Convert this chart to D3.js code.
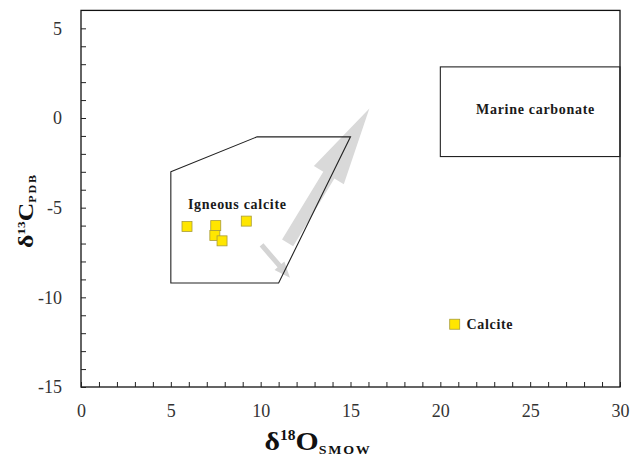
<!DOCTYPE html>
<html>
<head>
<meta charset="utf-8">
<script src="https://cdn.jsdelivr.net/npm/d3@7"></script>
<style>
  html, body { margin: 0; padding: 0; background: #fff; }
  svg { display: block; }
</style>
</head>
<body>
<svg id="chart" width="632" height="459"></svg>
<script>
// Axis tick values
const xTicks = d3.range(0, 31, 1);
const yTicks = d3.range(-15, 6, 1);

// Sample points: δ18O (SMOW) and δ13C (PDB)
const igneousO = [5.9, 7.5, 7.45, 7.85, 9.2];
const igneousC = [-6.05, -6.0, -6.55, -6.85, -5.75];
const calciteO = [20.8];
const calciteC = [-11.5];

// Igneous calcite field outline
const fieldO = [5, 9.8, 15, 11, 5];
const fieldC = [-3, -1.05, -1.05, -9.2, -9.2];

// Marine carbonate field (x0, x1, y0, y1)
const marineO = [20, 30];
const marineC = [-2.15, 2.85];

// Trend arrows: [tail, tip]
const bigArrowO = [11.5, 16.05];
const bigArrowC = [-6.97, 0.53];
const smallArrowO = [10.05, 11.63];
const smallArrowC = [-7.08, -8.91];

const SERIF = '"Liberation Serif", "Times New Roman", serif';
const W = 632, H = 459;
const margin = { top: 10.4, right: 12, bottom: 72, left: 81 };
const svg = d3.select("#chart");
const x = d3.scaleLinear().domain([0, 30]).range([margin.left, W - margin.right]);
const y = d3.scaleLinear().domain([-15, 6]).range([H - margin.bottom, margin.top]);

// Frame
svg.append("rect")
  .attr("x", x(0)).attr("y", y(6))
  .attr("width", x(30) - x(0)).attr("height", y(-15) - y(6))
  .attr("fill", "none").attr("stroke", "#111").attr("stroke-width", 1.3);

// Arrow polygon built in pixel space from scaled endpoints
function arrowPath(x0, y0, x1, y1, shaft, headW, headL) {
  const dx = x1 - x0, dy = y1 - y0, L = Math.hypot(dx, dy);
  const ux = dx / L, uy = dy / L, px = -uy, py = ux;
  const bx = x1 - ux * headL, by = y1 - uy * headL;
  const pts = [
    [x0 + px * shaft / 2, y0 + py * shaft / 2],
    [bx + px * shaft / 2, by + py * shaft / 2],
    [bx + px * headW / 2, by + py * headW / 2],
    [x1, y1],
    [bx - px * headW / 2, by - py * headW / 2],
    [bx - px * shaft / 2, by - py * shaft / 2],
    [x0 - px * shaft / 2, y0 - py * shaft / 2]
  ];
  return "M" + pts.map(p => p.join(",")).join("L") + "Z";
}

svg.append("path")
  .attr("d", arrowPath(x(bigArrowO[0]), y(bigArrowC[0]), x(bigArrowO[1]), y(bigArrowC[1]), 13, 35, 78))
  .attr("fill", "#d9d9d9");
svg.append("path")
  .attr("d", arrowPath(x(smallArrowO[0]), y(smallArrowC[0]), x(smallArrowO[1]), y(smallArrowC[1]), 5, 13, 16))
  .attr("fill", "#d4d4d4");

// Igneous calcite field
svg.append("path")
  .datum(fieldO.map((o, i) => [o, fieldC[i]]))
  .attr("d", d3.line().x(d => x(d[0])).y(d => y(d[1])).curve(d3.curveLinearClosed))
  .attr("fill", "none").attr("stroke", "#222").attr("stroke-width", 1.1);

// Marine carbonate field
svg.append("rect")
  .attr("x", x(marineO[0])).attr("y", y(marineC[1]))
  .attr("width", x(marineO[1]) - x(marineO[0]))
  .attr("height", y(marineC[0]) - y(marineC[1]))
  .attr("fill", "none").attr("stroke", "#222").attr("stroke-width", 1.1);

// Axes with inward ticks
const xAxis = d3.axisBottom(x).tickValues(xTicks).tickSize(-5).tickPadding(17)
  .tickFormat(d => d % 5 === 0 ? d : "");
const yAxis = d3.axisLeft(y).tickValues(yTicks).tickSize(-5).tickPadding(19)
  .tickFormat(d => d % 5 === 0 ? d : "");

const gx = svg.append("g").attr("transform", `translate(0,${y(-15)})`).call(xAxis);
const gy = svg.append("g").attr("transform", `translate(${x(0)},0)`).call(yAxis);
[gx, gy].forEach(g => {
  g.select(".domain").remove();
  g.selectAll(".tick line").attr("stroke", "#222").attr("stroke-width", 1);
  g.selectAll(".tick text").attr("font-size", 18).attr("fill", "#333");
});
gx.selectAll(".tick text").attr("dy", "0.71em");

// Sample squares
const sq = 10;
const pts = igneousO.map((o, i) => [o, igneousC[i]]).concat(calciteO.map((o, i) => [o, calciteC[i]]));
svg.append("g").selectAll("rect").data(pts).join("rect")
  .attr("x", d => x(d[0]) - sq / 2).attr("y", d => y(d[1]) - sq / 2)
  .attr("width", sq).attr("height", sq)
  .attr("fill", "#ffe600").attr("stroke", "#a89c3a").attr("stroke-width", 0.8);

// Field labels
const lab = (t, px, py, anchor) => svg.append("text")
  .attr("x", px).attr("y", py).attr("text-anchor", anchor)
  .attr("font-size", 14).attr("font-weight", "bold").attr("letter-spacing", 0.7)
  .attr("fill", "#1a1a1a").text(t);
lab("Igneous calcite", x(5.95), y(-5.05), "start");
lab("Marine carbonate", x(25.3), y(0.25), "middle");
lab("Calcite", x(21.45), y(-11.75), "start");

// Axis titles: wide bold serif, stretched horizontally to a set length
function axisTitle(parts, size, place, targetLen) {
  const t = svg.append("text")
    .attr("text-anchor", "middle").attr("font-weight", "bold")
    .attr("fill", "#111").attr("font-size", size)
    .style("font-family", SERIF);
  t.append("tspan").text(parts[0]);
  t.append("tspan").attr("font-size", size * 0.52).attr("dy", -size * 0.38).text(parts[1]);
  t.append("tspan").attr("dy", size * 0.38).text(parts[2]);
  t.append("tspan").attr("font-size", size * 0.47).attr("letter-spacing", 1.5)
    .attr("dy", size * 0.15).text(parts[3]);
  const w = t.node().getComputedTextLength();
  t.attr("transform", `${place} scale(${targetLen / w},1)`);
  return t;
}
svg.selectAll("text").style("font-family", SERIF);
axisTitle(["δ", "18", "O", "SMOW"], 26, "translate(318,450)", 107);
axisTitle(["δ", "13", "C", "PDB"], 20, "translate(33,210.5) rotate(-90)", 75);
</script>
</body>
</html>
